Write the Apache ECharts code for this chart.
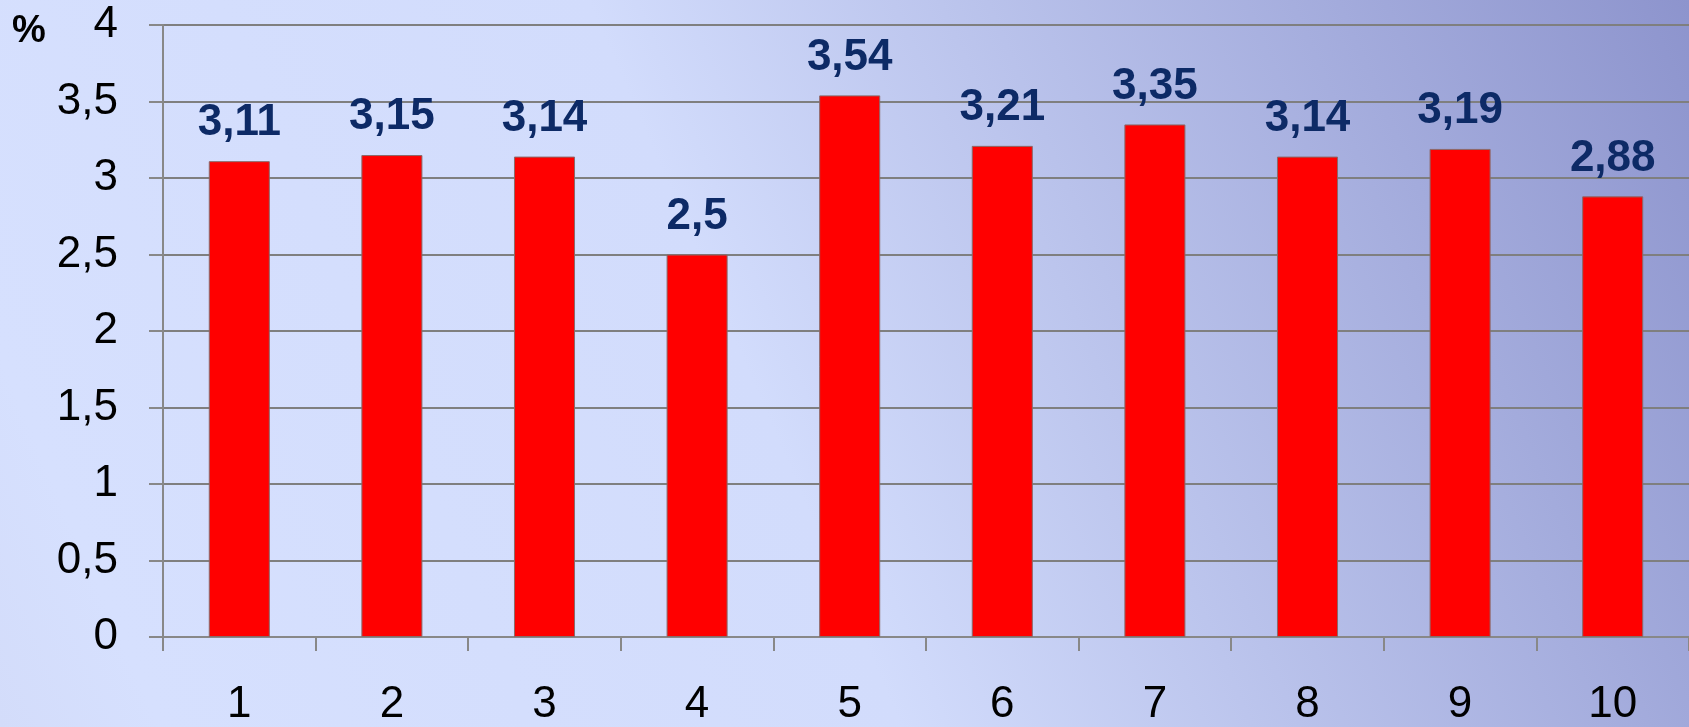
<!DOCTYPE html>
<html>
<head>
<meta charset="utf-8">
<style>
html,body{margin:0;padding:0;width:1689px;height:727px;overflow:hidden;}
#chart{width:1689px;height:727px;}
</style>
<script src="https://cdn.jsdelivr.net/npm/echarts@6/dist/echarts.min.js"></script>
</head>
<body>
<div id="chart"></div>
<script>
const categories = ['1','2','3','4','5','6','7','8','9','10'];
const values = [3.11, 3.15, 3.14, 2.5, 3.54, 3.21, 3.35, 3.14, 3.19, 2.88];
const yTicks = [0, 0.5, 1, 1.5, 2, 2.5, 3, 3.5, 4];
const unitLabel = '%';

const fmt = v => String(v).replace('.', ',');

const chart = echarts.init(document.getElementById('chart'));
chart.setOption({
  animation: false,
  backgroundColor: new echarts.graphic.LinearGradient(0, 1, 1, 0, [
    { offset: 0, color: '#d3dcfa' },
    { offset: 0.08, color: '#d6e0fe' },
    { offset: 0.45, color: '#d2dcfc' },
    { offset: 1, color: '#8d94cd' }
  ]),
  grid: { left: 163, top: 25, bottom: 89, right: -4, containLabel: false },
  graphic: [{
    type: 'text', left: 12, top: 13,
    style: { text: unitLabel, font: 'bold 38px "Liberation Sans", Arial, sans-serif', fill: '#000' }
  }],
  xAxis: {
    type: 'category',
    data: categories,
    axisLine: { lineStyle: { color: '#888', width: 2 } },
    axisTick: { show: true, length: 14, lineStyle: { color: '#888', width: 2 } },
    axisLabel: { margin: 46, fontSize: 44, color: '#000', fontFamily: '"Liberation Sans", Arial, sans-serif' }
  },
  yAxis: {
    type: 'value',
    min: yTicks[0], max: yTicks[yTicks.length - 1], interval: 0.5,
    axisLine: { show: true, lineStyle: { color: '#888', width: 2 } },
    axisTick: { show: true, length: 14, lineStyle: { color: '#888', width: 2 } },
    splitLine: { show: true, lineStyle: { color: '#7f7f7f', width: 2 } },
    axisLabel: { margin: 45, fontSize: 44, color: '#000', fontFamily: '"Liberation Sans", Arial, sans-serif', formatter: v => fmt(v) }
  },
  series: [{
    type: 'bar',
    data: values,
    barWidth: '40%',
    itemStyle: { color: '#ff0000', borderColor: '#8a6a6a', borderWidth: 1 },
    label: {
      show: true, position: 'top', distance: 16,
      fontSize: 44, fontWeight: 'bold', color: '#0d2a66',
      fontFamily: '"Liberation Sans", Arial, sans-serif',
      formatter: p => fmt(p.value)
    }
  }]
});
</script>
</body>
</html>
